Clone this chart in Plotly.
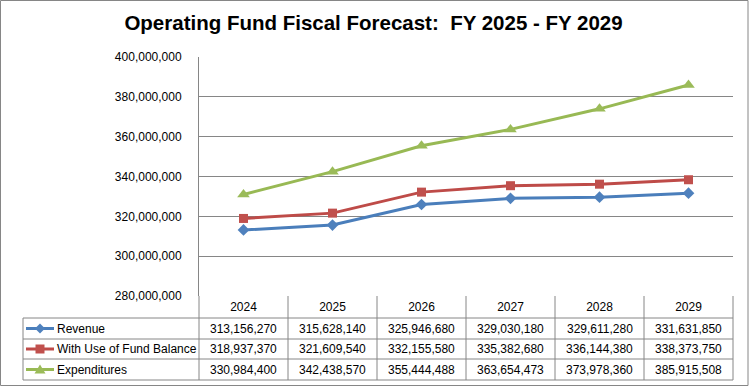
import plotly.graph_objects as go

years = ["2024", "2025", "2026", "2027", "2028", "2029"]
series_names = ["Revenue", "With Use of Fund Balance", "Expenditures"]
revenue = [313156270, 315628140, 325946680, 329030180, 329611280, 331631850]
fund_balance = [318937370, 321609540, 332155580, 335382680, 336144380, 338373750]
expenditures = [330984400, 342438570, 355444488, 363654473, 373978360, 385915508]
y_ticks = [280000000, 300000000, 320000000, 340000000, 360000000, 380000000, 400000000]

series_values = [revenue, fund_balance, expenditures]
line_colors = ["#4A7EBB", "#BE4B48", "#98B954"]
marker_colors = ["#4F81BD", "#C0504D", "#9BBB59"]
symbols = ["diamond", "square", "triangle-up"]
marker_sizes = [9, 9, 11]

W, H = 749, 387
L, R, T, B = 199, 16, 57, 91
PW, PH = W - L - R, H - T - B
FONT = "Liberation Sans"
GRID = "#868686"


def px_x(px):
    return (px - L) / PW


def px_y(py):
    return (H - B - py) / PH


fig = go.Figure()
for name, vals, lc, mc, sym, ms in zip(series_names, series_values, line_colors,
                                       marker_colors, symbols, marker_sizes):
    fig.add_trace(go.Scatter(
        x=years, y=vals, name=name, mode="lines+markers",
        line=dict(color=lc, width=3),
        marker=dict(symbol=sym, size=ms, color=mc, line=dict(width=0)),
        showlegend=False, cliponaxis=False, hoverinfo="x+y+name",
    ))

shapes = []
annotations = []

# table geometry (pixels)
row_edges = [318, 339, 359, 380]
legend_left = 23
ncol = len(years)

# column boundaries in the table
for j in range(ncol + 1):
    shapes.append(dict(type="line", xref="paper", yref="paper",
                       x0=j / ncol, x1=j / ncol, y0=px_y(row_edges[-1]), y1=0,
                       line=dict(color=GRID, width=1)))
# horizontal lines of the table
for ry in row_edges:
    shapes.append(dict(type="line", xref="paper", yref="paper",
                       x0=px_x(legend_left), x1=1, y0=px_y(ry), y1=px_y(ry),
                       line=dict(color=GRID, width=1)))
# left edge of legend column
shapes.append(dict(type="line", xref="paper", yref="paper",
                   x0=px_x(legend_left), x1=px_x(legend_left),
                   y0=px_y(row_edges[0]), y1=px_y(row_edges[-1]),
                   line=dict(color=GRID, width=1)))
# outer chart border
shapes.append(dict(type="rect", xref="paper", yref="paper",
                   x0=px_x(0.5), x1=px_x(748), y0=px_y(385.5), y1=px_y(0.5),
                   line=dict(color=GRID, width=1)))

marker_paths = {
    "diamond": "M 0,5 L 5,0 L 0,-5 L -5,0 Z",
    "square": "M -4.5,-4.5 L 4.5,-4.5 L 4.5,4.5 L -4.5,4.5 Z",
    "triangle-up": "M -5.5,-4 L 5.5,-4 L 0,5 Z",
}

for k, (name, vals) in enumerate(zip(series_names, series_values)):
    cy = (row_edges[k] + row_edges[k + 1]) / 2
    # legend key line
    shapes.append(dict(type="line", xref="paper", yref="paper",
                       x0=px_x(26), x1=px_x(54), y0=px_y(cy), y1=px_y(cy),
                       line=dict(color=line_colors[k], width=3)))
    shapes.append(dict(type="path", xref="paper", yref="paper",
                       xsizemode="pixel", ysizemode="pixel",
                       xanchor=px_x(40), yanchor=px_y(cy),
                       path=marker_paths[symbols[k]],
                       fillcolor=marker_colors[k], line=dict(width=0)))
    annotations.append(dict(text=name, xref="paper", yref="paper",
                            x=px_x(55), y=px_y(cy), xanchor="left", yanchor="middle",
                            showarrow=False, font=dict(family=FONT, size=12, color="#000")))
    for i, v in enumerate(vals):
        annotations.append(dict(text=f"{v:,}", xref="paper", yref="paper",
                                x=(i + 0.5) / ncol, y=px_y(cy), xanchor="center", yanchor="middle",
                                showarrow=False, font=dict(family=FONT, size=12, color="#000")))

fig.update_layout(
    width=W, height=H,
    margin=dict(l=L, r=R, t=T, b=B),
    paper_bgcolor="white", plot_bgcolor="white",
    title=dict(text="Operating Fund Fiscal Forecast:\u00a0 FY 2025 - FY 2029",
               x=0.4987, xref="container", xanchor="center",
               y=1 - 23 / H, yref="container", yanchor="middle",
               font=dict(family=FONT, size=20.5, color="#000", weight="bold")),
    xaxis=dict(type="category", range=[-0.5, ncol - 0.5], showgrid=False,
               showline=False, zeroline=False, ticks="",
               tickfont=dict(family=FONT, size=12, color="#000"),
               ticklabelstandoff=2),
    yaxis=dict(range=[y_ticks[0], y_ticks[-1]], tickvals=y_ticks, tickformat=",d",
               showgrid=True, gridcolor=GRID, gridwidth=1, zeroline=False,
               showline=True, linecolor=GRID, linewidth=1, ticks="",
               tickfont=dict(family=FONT, size=12, color="#000"),
               ticklabelstandoff=14),
    shapes=shapes, annotations=annotations,
)

fig.write_html("out.html", config={"displayModeBar": False},
               post_script="document.body.style.margin='0';document.body.style.padding='0';")
